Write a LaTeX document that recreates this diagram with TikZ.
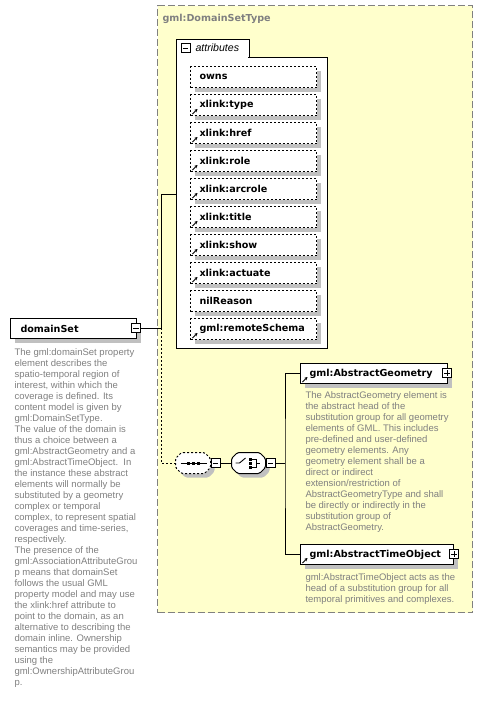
\documentclass[tikz,border=0pt]{standalone}
\usepackage{fontspec}
\setmainfont{Liberation Sans}
\newfontfamily\djv{DejaVu Sans}
\usetikzlibrary{arrows.meta}
\definecolor{bgyellow}{RGB}{255,255,204}
\definecolor{shgray}{RGB}{192,192,192}
\definecolor{txtgray}{RGB}{128,128,128}
\definecolor{bordergray}{RGB}{128,128,128}
\begin{document}
\begin{tikzpicture}[x=1pt,y=-1pt,line width=1pt,
  shadowed/.style={preaction={fill=shgray,transform canvas={shift={(4pt,-4pt)}}}},
  lbl/.style={font=\djv\bfseries\fontsize{9.6}{11}\selectfont},
  elem/.style={draw,fill=white,shadowed,minimum height=20pt,inner ysep=0pt,anchor=north west,align=left,lbl},
  attrbox/.style={draw,dash pattern=on 2pt off 2pt,fill=white,shadowed,minimum height=21pt,minimum width=126pt,
     inner ysep=0pt,inner xsep=9pt,text width=108pt,anchor=north west,align=left,lbl},
  desc/.style={anchor=north west,inner sep=0pt,align=left,text=txtgray,font=\fontsize{9.5}{11}\selectfont},
  pmbox/.style={draw,fill=white,minimum size=9pt,inner sep=0pt,line width=0.8pt},
  minusbox/.style={pmbox,path picture={\draw[line width=0.8pt] ([xshift=1.8pt]path picture bounding box.west) -- ([xshift=-1.8pt]path picture bounding box.east);}},
  plusbox/.style={pmbox,path picture={\draw[line width=0.8pt] ([xshift=1.8pt]path picture bounding box.west) -- ([xshift=-1.8pt]path picture bounding box.east);
     \draw[line width=0.8pt] ([yshift=-1.8pt]path picture bounding box.north) -- ([yshift=1.8pt]path picture bounding box.south);}},
  comp/.style={rectangle,minimum height=20pt,inner sep=0pt},
  compshape/.style={draw,fill=white,shadowed,rounded corners=1.5pt},
  refarrow/.style={-{Stealth[length=3pt,width=3.2pt]},line width=0.9pt}
]
\useasboundingbox (0,0) rectangle (483,702);
% complex type area
\node[draw=bordergray,dash pattern=on 7pt off 3pt,fill=bgyellow,minimum width=315pt,minimum height=607pt,anchor=north west,inner sep=0pt] (ctype) at (157,5) {};
\node[anchor=west,inner sep=0pt,text=txtgray,lbl] (ctitle) at (162,19) {gml:DomainSetType};
% attributes container
\node[draw,fill=white,minimum width=73pt,minimum height=19pt,anchor=north west,inner sep=0pt] (atab) at (176,39) {};
\node[draw,fill=white,minimum width=151pt,minimum height=291pt,anchor=north west,inner sep=0pt] (attr) at (176,57) {};
\fill[white] (177,56) rectangle (248,58.5);
\node[minusbox] (atabm) at (185.5,48) {};
\node[anchor=west,inner sep=0pt,font=\itshape\fontsize{10.6}{12}\selectfont] (atabt) at (195,48) {attributes};
% attributes
\foreach \lab/\ic [count=\i from 0] in {owns/0,xlink:type/1,xlink:href/1,xlink:role/1,xlink:arcrole/1,xlink:title/1,xlink:show/1,xlink:actuate/1,nilReason/0,gml:remoteSchema/1}{
  \node[attrbox] (a\i) at (190,66+28*\i) {\lab};
  \ifnum\ic=1
    \draw[refarrow] ([shift={(2.5pt,2pt)}]a\i.south west) -- ++(5pt,5pt);
  \fi
}
% domainSet element
\node[elem,minimum width=126pt,inner xsep=10pt,text width=106pt] (ds) at (10,318) {domainSet};
\node[minusbox] (dsm) at (136,328) {};
\node[desc] (dsd) at (14,348) {The gml:domainSet property\\element describes the\\spatio-temporal region of\\interest, within which the\\coverage is defined. Its\\content model is given by\\gml:DomainSetType.\\The value of the domain is\\thus a choice between a\\gml:AbstractGeometry and a\\gml:AbstractTimeObject.\ \ In\\the instance these abstract\\elements will normally be\\substituted by a geometry\\complex or temporal\\complex, to represent spatial\\coverages and time-series,\\respectively.\\The presence of the\\gml:AssociationAttributeGrou\\p means that domainSet\\follows the usual GML\\property model and may use\\the xlink:href attribute to\\point to the domain, as an\\alternative to describing the\\domain inline. Ownership\\semantics may be provided\\using the\\gml:OwnershipAttributeGrou\\p.};
% connectors from domainSet
\coordinate (j1) at (161,328);
\coordinate (ain) at (176,194);
\draw (dsm.east) -- (j1) -- (j1 |- ain) -- (ain);
% sequence compositor
\node[comp,minimum width=34pt] (seq) at (193,463) {};
\draw[compshape,dash pattern=on 2pt off 2pt]
  ([xshift=6pt]seq.north west) -- ([xshift=-6pt]seq.north east) -- ([yshift=-6pt]seq.north east)
  -- ([yshift=6pt]seq.south east) -- ([xshift=-6pt]seq.south east) -- ([xshift=6pt]seq.south west)
  -- ([yshift=6pt]seq.south west) -- ([yshift=-6pt]seq.north west) -- cycle;
\draw[line width=0.9pt] ([xshift=5pt]seq.west) -- ([xshift=-4pt]seq.east);
\foreach \dx in {-5,0,5} \fill ([xshift=\dx pt]seq.center) ++(-1.5pt,-1.5pt) rectangle ++(3pt,3pt);
\node[minusbox] (seqm) at (215.5,463) {};
\draw[dash pattern=on 2pt off 2pt] (j1) |- (seq.west);
% choice compositor
\node[comp,minimum width=33pt] (ch) at (248.5,463) {};
\draw[compshape]
  ([xshift=6pt]ch.north west) -- ([xshift=-6pt]ch.north east) -- ([yshift=-6pt]ch.north east)
  -- ([yshift=6pt]ch.south east) -- ([xshift=-6pt]ch.south east) -- ([xshift=6pt]ch.south west)
  -- ([yshift=6pt]ch.south west) -- ([yshift=-6pt]ch.north west) -- cycle;
\draw (seqm.east) -- (ch.west);
\draw[line width=0.9pt] ([xshift=4pt]ch.west) -- ++(4pt,0pt) -- ++(6pt,5pt);
\foreach \dy in {-4,0,4} \fill ([shift={(2pt,\dy pt)}]ch.center) ++(-1.5pt,-1.5pt) rectangle ++(3pt,3pt);
\draw[line width=0.9pt] ([shift={(3.5pt,4pt)}]ch.center) -- ++(4pt,0pt) -- ++(0pt,-8pt) -- ++(-4pt,0pt);
\draw[line width=0.9pt] ([shift={(7.5pt,0pt)}]ch.center) -- ++(4pt,0pt);
\node[minusbox] (chm) at (270.5,463) {};
\coordinate (j2) at (285,463);
\draw (chm.east) -- (j2);
% elements of choice
\node[elem,minimum width=147pt,inner xsep=9pt,text width=129pt] (geo) at (300,363) {gml:AbstractGeometry};
\node[plusbox] (geop) at (447,373) {};
\draw[refarrow] ([shift={(2.5pt,2pt)}]geo.south west) -- ++(5pt,5pt);
\node[desc] (geod) at (305,391) {The AbstractGeometry element is\\the abstract head of the\\substitution group for all geometry\\elements of GML. This includes\\pre-defined and user-defined\\geometry elements. Any\\geometry element shall be a\\direct or indirect\\extension/restriction of\\AbstractGeometryType and shall\\be directly or indirectly in the\\substitution group of\\AbstractGeometry.};
\node[elem,minimum width=153pt,inner xsep=9pt,text width=135pt] (time) at (300,544) {gml:AbstractTimeObject};
\node[plusbox] (timep) at (454,554) {};
\draw[refarrow] ([shift={(2.5pt,2pt)}]time.south west) -- ++(5pt,5pt);
\node[desc] (timed) at (305,573) {gml:AbstractTimeObject acts as the\\head of a substitution group for all\\temporal primitives and complexes.};
\draw (geo.west) -| (j2) |- (time.west);
\end{tikzpicture}
\end{document}
